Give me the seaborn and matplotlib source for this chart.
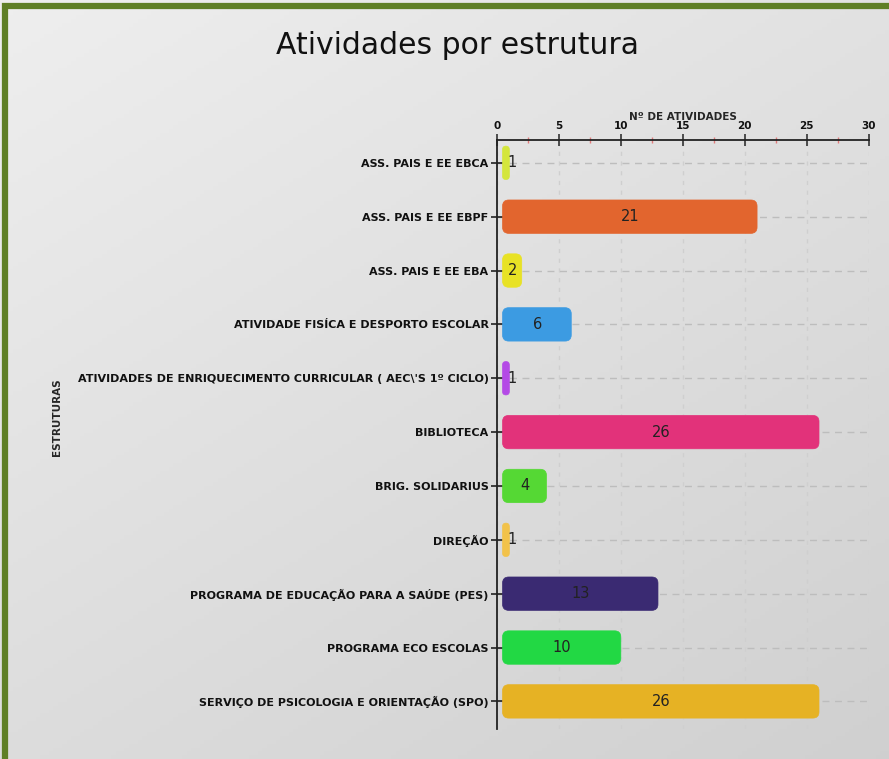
import numpy as np
import matplotlib.pyplot as plt
import seaborn as sns
from matplotlib.patches import FancyBboxPatch, Rectangle

# Data
estruturas = [
    "ASS. PAIS E EE EBCA",
    "ASS. PAIS E EE EBPF",
    "ASS. PAIS E EE EBA",
    "ATIVIDADE FISÍCA E DESPORTO ESCOLAR",
    "ATIVIDADES DE ENRIQUECIMENTO CURRICULAR ( AEC\\'S 1º CICLO)",
    "BIBLIOTECA",
    "BRIG. SOLIDARIUS",
    "DIREÇÃO",
    "PROGRAMA DE EDUCAÇÃO PARA A SAÚDE (PES)",
    "PROGRAMA ECO ESCOLAS",
    "SERVIÇO DE PSICOLOGIA E ORIENTAÇÃO (SPO)",
]
n_atividades = [1, 21, 2, 6, 1, 26, 4, 1, 13, 10, 26]
cores = ["#d4e63c", "#e2652e", "#e8e225", "#3c9be2", "#b44ae6", "#e2327a",
         "#55d834", "#f2c24a", "#3a2a72", "#22d844", "#e6b224"]
xticks = [0, 5, 10, 15, 20, 25, 30]

sns.set_theme(style="white")
plt.rcParams['font.family'] = ['DejaVu Sans']

fig = plt.figure(figsize=(8.89, 7.59), dpi=100)

# light gray gradient background
bg = fig.add_axes([0, 0, 1, 1], zorder=-10)
gx, gy = np.meshgrid(np.linspace(0, 1, 200), np.linspace(0, 1, 200))
shade = 0.935 - 0.05 * gx - 0.07 * gy
bg.imshow(np.dstack([shade, shade, shade]), aspect="auto", extent=[0, 1, 0, 1],
          origin="upper")
bg.set_xlim(0, 1)
bg.set_ylim(0, 1)
bg.axis("off")

# green frame (top and left edges visible)
fig.patches.append(Rectangle((0.006, -0.1), 1.2, 1.092, transform=fig.transFigure,
                             fill=False, edgecolor="#5f7f26", linewidth=4.5, zorder=5))

ax = fig.add_axes([0.559, 0.039, 0.418, 0.777])
ax.set_facecolor("none")

sns.barplot(x=n_atividades, y=estruturas, hue=estruturas, palette=cores,
            orient="h", width=0.62, saturation=1, legend=False, ax=ax, zorder=3)

ax.set_xlim(0, 30)
ax.set_ylim(10.52, -0.43)

# rounded bars
x_px = 0.418 * 889 / 30
y_px = 0.777 * 759 / 10.95
aspect = x_px / y_px
for p in list(ax.patches):
    x, y, w, h = p.get_x(), p.get_y(), p.get_width(), p.get_height()
    fc = p.get_facecolor()
    p.remove()
    x0 = x + 0.45
    ww = w - 0.45
    r = min(0.5, ww / 2)
    ax.add_patch(FancyBboxPatch((x0, y), ww, h,
                                boxstyle=f"round,pad=0,rounding_size={r}",
                                mutation_aspect=aspect, facecolor=fc,
                                edgecolor=fc, linewidth=0.5, zorder=3))

# value labels
for i, v in enumerate(n_atividades):
    xpos = max(v / 2 + 0.25, 1.25)
    ax.text(xpos, i, str(v), ha="center", va="center", fontsize=10.5,
            color="#222222", zorder=4)

# axes styling
ax.xaxis.tick_top()
ax.xaxis.set_label_position("top")
ax.set_xticks(xticks)
ax.set_xticks([2.5, 7.5, 12.5, 17.5, 22.5, 27.5], minor=True)
ax.tick_params(axis="x", which="major", direction="inout", length=8, width=1.2,
               color="#333333", labelsize=7.5, pad=2, labelcolor="#111111")
ax.tick_params(axis="x", which="minor", direction="inout", length=5, width=1,
               color="#e07a7a", top=True)
ax.tick_params(axis="y", which="major", direction="inout", length=8, width=1.2,
               color="#222222", labelsize=8, pad=2, left=True, labelcolor="#111111")
for lbl in ax.get_yticklabels():
    lbl.set_fontweight("bold")
for lbl in ax.get_xticklabels():
    lbl.set_fontweight("bold")
ax.set_xlabel("Nº DE ATIVIDADES", fontsize=7.5, labelpad=1, fontweight="bold")
ax.set_ylabel("ESTRUTURAS", fontsize=7.5, fontweight="bold")
ax.yaxis.set_label_coords(-1.17, 0.53)

for s in ["right", "bottom"]:
    ax.spines[s].set_visible(False)
for s in ["top", "left"]:
    ax.spines[s].set_color("#222222")
    ax.spines[s].set_linewidth(1.3)

ax.grid(True, axis="y", linestyle=(0, (5, 4)), color="#bdbdbd", linewidth=1, zorder=0)
ax.grid(True, axis="x", linestyle=(0, (3, 4)), color="#cfcfcf", linewidth=1, zorder=0)
ax.set_axisbelow(True)

fig.text(0.515, 0.94, "Atividades por estrutura", ha="center", va="center",
         fontsize=21.5, color="#111111")

plt.savefig("out.png", dpi=100)
